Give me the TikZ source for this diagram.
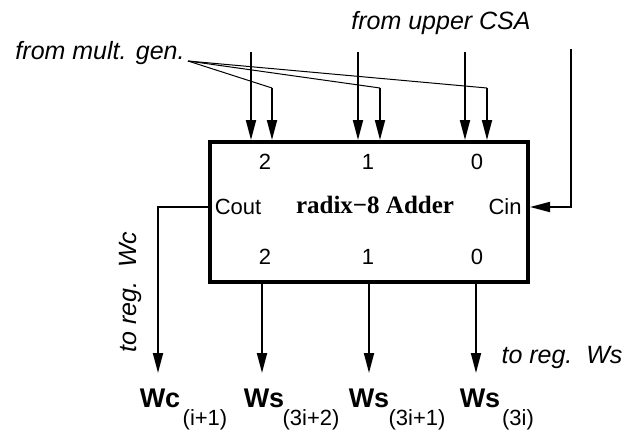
\documentclass[tikz,border=0pt]{standalone}
\usepackage{fontspec}
\setmainfont{Liberation Sans}
\newfontfamily\titlefont{Liberation Serif}
\usetikzlibrary{positioning,arrows.meta}

\begin{document}
\begin{tikzpicture}[x=1pt,y=-1pt,
    wire/.style={line width=1.8pt,-{Triangle[length=20pt,width=10pt]}},
    fanline/.style={line width=1pt},
    note/.style={font=\itshape\fontsize{25}{28}\selectfont},
    port/.style={font=\fontsize{22}{25}\selectfont},
    outlbl/.style={font=\bfseries\fontsize{27}{30}\selectfont},
    sublbl/.style={font=\fontsize{22}{25}\selectfont}]
    \useasboundingbox (0,0) rectangle (637,432);
    % adder box
    \node[draw,line width=4pt,minimum width=318pt,minimum height=140pt,inner sep=0pt] (adder) at (369,212) {};
    \node[font=\titlefont\bfseries\fontsize{25}{28}\selectfont] (title) at (375,205) {radix−8 Adder};
    \node[port] (in2) at (265,162) {2};
    \node[port] (in1) at (368,162) {1};
    \node[port] (in0) at (477,162) {0};
    \node[port] (out2) at (265,257) {2};
    \node[port] (out1) at (368,257) {1};
    \node[port] (out0) at (477,257) {0};
    \node[port] (cout) at (238,207) {Cout};
    \node[port] (cin) at (505,207) {Cin};
    % inputs from above
    \node[note] (mult) at (100,53) {from mult. gen.};
    \node[note] (csa) at (441,23) {from upper CSA};
    \coordinate (fan) at (188,61);
    \coordinate (a2) at (251,52);
    \coordinate (a1) at (358,52);
    \coordinate (a0) at (465,52);
    \coordinate (b2) at (272,88);
    \coordinate (b1) at (380,88);
    \coordinate (b0) at (487,88);
    \coordinate (cup) at (571,49);
    \foreach \k in {2,1,0} {
        \draw[wire] (a\k) -- (a\k |- adder.north);
        \draw[fanline] (fan) -- (b\k);
        \draw[wire] (b\k) -- (b\k |- adder.north);
    }
    \draw[wire] (cup) |- (adder.east |- cin);
    % outputs
    \coordinate (o3) at (158,373);
    \coordinate (o2) at (262,373);
    \coordinate (o1) at (369,373);
    \coordinate (o0) at (476,373);
    \draw[wire] (adder.west |- cout) -| (o3);
    \foreach \k in {2,1,0} {
        \draw[wire] (o\k |- adder.south) -- (o\k);
    }
    \node[note,rotate=90] (wcreg) at (130,292) {to reg.\ \ Wc};
    \node[note] (wsreg) at (562,357) {to reg.\ \ Ws};
    \node[outlbl] (wc) at (160,398) {Wc};
    \node[sublbl] (wcsub) at (205,420) {(i+1)};
    \node[outlbl] (ws2) at (264,398) {Ws};
    \node[sublbl] (ws2sub) at (311,420) {(3i+2)};
    \node[outlbl] (ws1) at (369,398) {Ws};
    \node[sublbl] (ws1sub) at (417,420) {(3i+1)};
    \node[outlbl] (ws0) at (480,398) {Ws};
    \node[sublbl] (ws0sub) at (518,420) {(3i)};
\end{tikzpicture}
\end{document}
